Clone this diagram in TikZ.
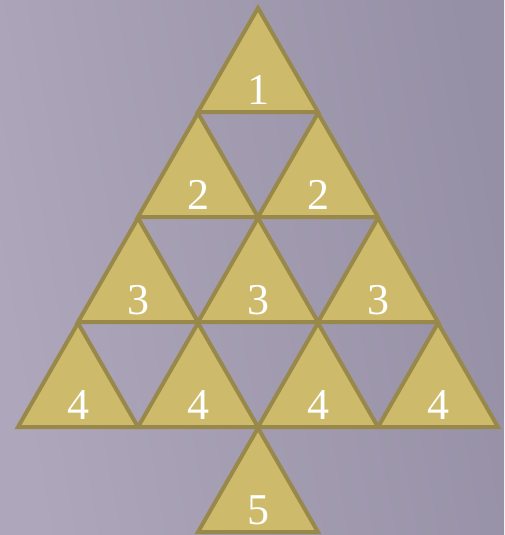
\documentclass[tikz,border=0pt]{standalone}
\usepackage{fontspec}
\setmainfont{Liberation Serif}
\begin{document}
\begin{tikzpicture}[x=1pt,y=-1pt,
  tri/.style={fill=triFill,draw=triEdge,line width=4pt,line join=miter},
  num/.style={text=white,font=\fontsize{44}{44}\selectfont,inner sep=0pt,anchor=base}]
\definecolor{bgL}{RGB}{174,167,187}
\definecolor{bgR}{RGB}{150,144,166}
\definecolor{triFill}{RGB}{205,186,106}
\definecolor{triEdge}{RGB}{152,137,74}
\shade[left color=bgL,right color=bgR,shading angle=100] (0,0) rectangle (504,535);
\useasboundingbox (0,0) rectangle (504,535);
\foreach \ax/\ay/\lab [count=\i] in {258/8/1, 198/113/2, 318/113/2, 138/218/3, 258/218/3, 378/218/3, 78/323/4, 198/323/4, 318/323/4, 438/323/4, 258/428/5}{
  \draw[tri] (\ax,\ay) -- (\ax+60,\ay+104) -- (\ax-60,\ay+104) -- cycle;
  \node[num] (n\i) at (\ax,\ay+96) {\lab};
}
\end{tikzpicture}
\end{document}
